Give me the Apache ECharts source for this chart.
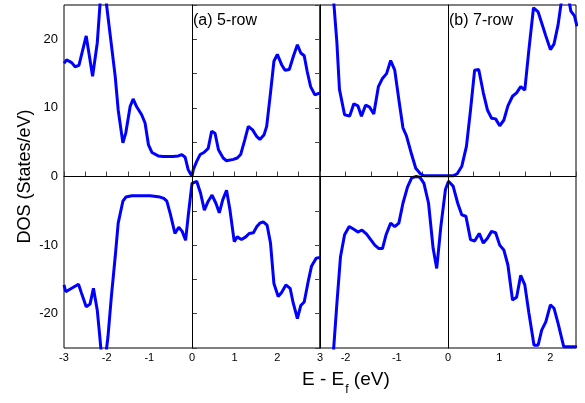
<!DOCTYPE html>
<html>
<head>
<meta charset="utf-8">
<script src="https://cdn.jsdelivr.net/npm/echarts@6/dist/echarts.min.js"></script>
<style>
  html, body { margin: 0; padding: 0; background: #fff; }
  #chart { width: 585px; height: 403px; }
</style>
</head>
<body>
<div id="chart"></div>
<script>
// (a) 5-row, spin up
const upAX = [-3, -2.94, -2.82, -2.74, -2.65, -2.48, -2.33, -2.22, -2.1, -1.8, -1.73, -1.62, -1.55, -1.45, -1.38, -1.3, -1.18, -1.1, -1.02, -0.94, -0.79, -0.68, -0.45, -0.32, -0.24, -0.16, -0.09, 0, 0.03, 0.11, 0.19, 0.28, 0.38, 0.46, 0.54, 0.62, 0.73, 0.81, 0.97, 1.06, 1.14, 1.24, 1.32, 1.42, 1.52, 1.59, 1.69, 1.75, 1.84, 1.92, 2.0, 2.1, 2.18, 2.28, 2.38, 2.47, 2.55, 2.63, 2.7, 2.78, 2.88, 3.0];
const upAY = [16.5, 17.0, 16.6, 16.0, 16.2, 20.5, 14.6, 19.5, 30, 14.6, 9.7, 4.9, 6.4, 10.2, 11.3, 10.2, 9.0, 7.8, 4.6, 3.5, 3.0, 2.9, 2.9, 3.0, 3.2, 2.8, 1.0, 0, 1.0, 2.2, 3.2, 3.5, 4.1, 6.6, 6.3, 3.9, 2.7, 2.3, 2.5, 2.7, 3.2, 5.4, 7.3, 6.8, 5.8, 5.4, 6.1, 7.3, 12.2, 16.8, 17.8, 16.3, 15.5, 15.6, 17.6, 19.2, 18.0, 17.6, 15.3, 13.1, 11.9, 12.2];

// (a) 5-row, spin down
const dnAX = [-3, -2.96, -2.66, -2.59, -2.48, -2.39, -2.31, -2.22, -2.16, -2.08, -1.97, -1.89, -1.8, -1.73, -1.62, -1.55, -1.41, -0.98, -0.75, -0.66, -0.59, -0.51, -0.4, -0.31, -0.23, -0.15, -0.09, 0, 0.11, 0.2, 0.29, 0.38, 0.47, 0.56, 0.64, 0.72, 0.81, 0.89, 0.99, 1.06, 1.16, 1.26, 1.34, 1.44, 1.52, 1.59, 1.67, 1.76, 1.84, 1.92, 2.02, 2.1, 2.2, 2.3, 2.37, 2.47, 2.55, 2.63, 2.73, 2.8, 2.91, 3.0];
const dnAY = [-15.8, -16.8, -15.7, -17.0, -19.0, -18.6, -16.3, -19.5, -23.4, -29, -23.4, -17.5, -11.7, -6.8, -3.6, -3.0, -2.8, -2.8, -3.0, -3.2, -3.6, -5.4, -8.3, -7.4, -8.0, -9.3, -5.8, -1.0, -0.7, -2.4, -4.9, -3.6, -2.7, -3.9, -5.3, -3.4, -2.0, -4.9, -9.5, -8.8, -9.2, -8.8, -8.3, -8.2, -7.3, -6.8, -6.6, -7.1, -9.7, -15.6, -17.5, -16.9, -15.8, -16.3, -18.4, -20.7, -18.8, -18.3, -15.1, -13.1, -11.9, -11.8];

// (b) 7-row, spin up
const upBX = [-2.3, -2.17, -2.12, -2.02, -1.92, -1.84, -1.76, -1.69, -1.61, -1.53, -1.45, -1.36, -1.28, -1.2, -1.12, -1.04, -0.96, -0.88, -0.81, -0.71, -0.63, -0.54, -0.47, 0, 0.1, 0.18, 0.27, 0.36, 0.44, 0.52, 0.6, 0.69, 0.77, 0.85, 0.93, 1.01, 1.09, 1.17, 1.26, 1.34, 1.42, 1.5, 1.58, 1.67, 1.76, 1.85, 1.91, 2.0, 2.07, 2.15, 2.28, 2.4, 2.47, 2.52];
const upBY = [32, 19.5, 12.7, 9.0, 8.8, 10.6, 10.3, 8.8, 10.4, 10.1, 9.1, 13.1, 14.3, 15.0, 16.9, 15.5, 11.2, 7.1, 5.9, 3.2, 1.2, 0.4, 0.1, 0.1, 0.1, 0.4, 1.5, 4.4, 9.7, 15.5, 15.6, 12.2, 9.7, 8.5, 8.4, 7.4, 8.2, 10.3, 11.7, 12.2, 13.1, 12.6, 18.5, 24.6, 24.0, 21.9, 20.5, 18.5, 19.3, 22.1, 29, 24.1, 23.4, 21.9];

// (b) 7-row, spin down
const dnBX = [-2.3, -2.17, -2.1, -2.02, -1.93, -1.84, -1.76, -1.68, -1.59, -1.51, -1.43, -1.35, -1.28, -1.21, -1.12, -1.04, -0.96, -0.88, -0.79, -0.71, -0.62, -0.55, -0.47, -0.38, -0.29, -0.22, -0.14, -0.05, 0.01, 0.1, 0.19, 0.27, 0.35, 0.44, 0.52, 0.61, 0.69, 0.77, 0.85, 0.93, 1.01, 1.09, 1.17, 1.26, 1.34, 1.42, 1.5, 1.58, 1.68, 1.76, 1.83, 1.91, 2.0, 2.07, 2.15, 2.26, 2.52];
const dnBY = [-32, -18.5, -11.7, -8.5, -7.3, -7.7, -8.1, -7.8, -8.4, -9.2, -10.0, -10.5, -10.5, -8.5, -6.8, -7.3, -6.8, -3.9, -1.5, -0.2, 0, -0.1, -1.0, -3.9, -10.5, -13.4, -7.3, -1.9, -0.7, -1.4, -3.9, -5.6, -5.8, -9.2, -9.4, -8.3, -9.7, -9.0, -8.0, -8.2, -10.0, -10.7, -12.9, -18.0, -17.6, -14.4, -15.8, -19.9, -24.6, -24.6, -22.4, -21.2, -18.7, -19.2, -21.4, -24.8, -24.8];

const panelLabels = ['(a) 5-row', '(b) 7-row'];

const pairs = (xs, ys) => xs.map((x, i) => [x, ys[i]]);

const FONT = 'Liberation Sans';
const chart = echarts.init(document.getElementById('chart'), null, { renderer: 'canvas' });

function xAxisOf(grid, min, max) {
  return {
    gridIndex: grid,
    type: 'value',
    min: min,
    max: max,
    interval: 0.5,
    axisLine: { show: true, lineStyle: { color: '#000', width: 1 } },
    axisTick: { show: true, inside: true, length: 5, lineStyle: { color: '#444' } },
    axisLabel: {
      fontFamily: FONT, fontSize: 11, color: '#000', margin: 4,
      showMinLabel: true, showMaxLabel: true, hideOverlap: false,
      formatter: v => (Math.abs(v - Math.round(v)) < 1e-6 ? String(Math.round(v)) : ''),
    },
    splitLine: { show: false },
  };
}

function yAxisOf(grid, opts) {
  return Object.assign({
    gridIndex: grid,
    type: 'value',
    min: -25,
    max: 25,
    interval: 5,
    axisLine: { show: true, lineStyle: { color: '#000', width: 1 } },
    axisTick: { show: true, inside: true, length: 5, lineStyle: { color: '#444' } },
    axisLabel: { show: false },
    splitLine: { show: false },
  }, opts);
}

const zeroLines = {
  silent: true,
  symbol: ['none', 'none'],
  label: { show: false },
  lineStyle: { color: '#000', width: 1, type: 'solid' },
  emphasis: { disabled: true },
  data: [{ yAxis: 0 }, { xAxis: 0 }],
};

function lineSeries(xi, yi, data, withZero) {
  const s = {
    type: 'line',
    xAxisIndex: xi,
    yAxisIndex: yi,
    data: data,
    showSymbol: false,
    clip: true,
    animation: false,
    lineStyle: { color: '#0000ff', width: 3 },
    itemStyle: { color: '#0000ff' },
    z: 3,
  };
  if (withZero) s.markLine = zeroLines;
  return s;
}

chart.setOption({
  animation: false,
  textStyle: { fontFamily: FONT },
  title: [
    {
      text: panelLabels[0], left: 193, top: 11, padding: 0,
      textStyle: { fontFamily: FONT, fontSize: 16, fontWeight: 'normal', color: '#000', lineHeight: 20 },
    },
    {
      text: panelLabels[1], left: 449, top: 11, padding: 0,
      textStyle: { fontFamily: FONT, fontSize: 16, fontWeight: 'normal', color: '#000', lineHeight: 20 },
    },
    {
      text: '{m|E - E}{s|f}{m| (eV)}', left: 302, top: 370, padding: 0,
      textStyle: {
        fontFamily: FONT, fontWeight: 'normal', color: '#000',
        rich: {
          m: { fontFamily: FONT, fontSize: 19, lineHeight: 22, verticalAlign: 'top', color: '#000' },
          s: { fontFamily: FONT, fontSize: 12, lineHeight: 12, verticalAlign: 'top', padding: [14, 0, 0, 1], color: '#000' },
        },
      },
    },
  ],
  grid: [
    { left: 64, top: 5, width: 256, height: 343, show: true, borderColor: '#000', borderWidth: 1, containLabel: false },
    { left: 320, top: 5, width: 256, height: 343, show: true, borderColor: '#000', borderWidth: 1, containLabel: false },
  ],
  xAxis: [xAxisOf(0, -3, 3), xAxisOf(1, -2.5, 2.5)],
  yAxis: [
    yAxisOf(0, {
      name: 'DOS (States/eV)',
      nameLocation: 'middle',
      nameGap: 30,
      nameTextStyle: { fontFamily: FONT, fontSize: 18, color: '#000' },
      axisLabel: {
        show: true, fontFamily: FONT, fontSize: 13, color: '#000', margin: 6,
        formatter: v => (v % 10 === 0 && Math.abs(v) < 25 ? String(v) : ''),
      },
    }),
    yAxisOf(0, { position: 'right' }),
    yAxisOf(1, { axisTick: { show: false } }),
  ],
  series: [
    lineSeries(0, 0, pairs(upAX, upAY), true),
    lineSeries(0, 0, pairs(dnAX, dnAY), false),
    lineSeries(1, 2, pairs(upBX, upBY), true),
    lineSeries(1, 2, pairs(dnBX, dnBY), false),
  ],
});
</script>
</body>
</html>
